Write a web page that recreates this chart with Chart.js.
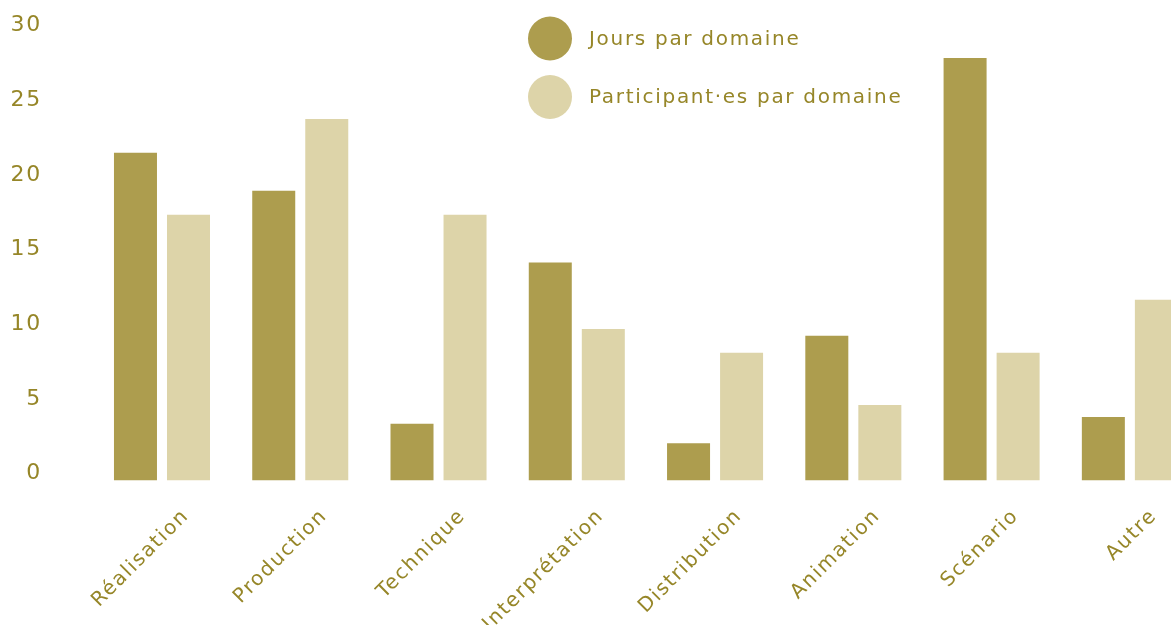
<!DOCTYPE html>
<html>
<head>
<meta charset="utf-8">
<script src="https://cdn.jsdelivr.net/npm/chart.js@4.4.1/dist/chart.umd.min.js"></script>
<style>
  html, body { margin: 0; padding: 0; background: #ffffff; overflow: hidden; }
  #wrap { position: relative; width: 1200px; height: 625px; }
</style>
</head>
<body>
<div id="wrap"><canvas id="c"></canvas></div>
<script>
const categories = ['Réalisation', 'Production', 'Technique', 'Interprétation', 'Distribution', 'Animation', 'Scénario', 'Autre'];
const seriesNames = ['Jours par domaine', 'Participant·es par domaine'];
const joursParDomaine = [21.95, 19.4, 3.8, 14.6, 2.5, 9.7, 28.3, 4.25];
const participantsParDomaine = [17.8, 24.2, 17.8, 10.15, 8.55, 5.05, 8.55, 12.1];
const yMin = 0, yMax = 30, yStep = 5;

const TEXT = '#968628';
const DARK = '#AD9D4E';
const LIGHT = '#DDD4A9';
const FONT = '"DejaVu Sans", sans-serif';
const SPACING = '1.7px';

const spacingPlugin = {
  id: 'spacing',
  beforeUpdate(chart) { chart.ctx.letterSpacing = SPACING; },
  beforeLayout(chart) { chart.ctx.letterSpacing = SPACING; },
  beforeDraw(chart) { chart.ctx.letterSpacing = SPACING; }
};

const legendPlugin = {
  id: 'customLegend',
  afterDraw(chart) {
    const ctx = chart.ctx;
    const rows = [38.5, 97];
    ctx.save();
    ctx.letterSpacing = SPACING;
    chart.data.datasets.forEach((ds, i) => {
      ctx.beginPath();
      ctx.fillStyle = ds.backgroundColor;
      ctx.arc(550, rows[i], 22, 0, Math.PI * 2);
      ctx.fill();
      ctx.fillStyle = TEXT;
      ctx.font = '20px ' + FONT;
      ctx.textAlign = 'left';
      ctx.textBaseline = 'middle';
      ctx.fillText(ds.label, 589, rows[i] + 1);
    });
    ctx.restore();
  }
};

new Chart(document.getElementById('c'), {
  type: 'bar',
  data: {
    labels: categories,
    datasets: [
      { label: seriesNames[0], data: joursParDomaine, backgroundColor: DARK },
      { label: seriesNames[1], data: participantsParDomaine, backgroundColor: LIGHT }
    ]
  },
  options: {
    responsive: true,
    maintainAspectRatio: false,
    animation: false,
    barPercentage: 0.811,
    categoryPercentage: 0.767,
    layout: { padding: { top: 32.5, right: 1, left: 0, bottom: 0 } },
    plugins: { legend: { display: false }, tooltip: { enabled: false } },
    scales: {
      x: {
        grid: { display: false, drawTicks: false },
        border: { display: false },
        afterFit(scale) { scale.height = 144.5; scale.paddingLeft = 0; scale.paddingRight = 0; },
        ticks: {
          color: TEXT,
          font: { family: FONT, size: 20 },
          minRotation: 45,
          maxRotation: 45,
          padding: 24,
          labelOffset: 24,
          autoSkip: false
        }
      },
      y: {
        min: yMin,
        max: yMax,
        grid: { display: false, drawTicks: false },
        border: { display: false },
        afterFit(scale) { scale.width = 92.85; scale.paddingTop = 0; scale.paddingBottom = 0; },
        ticks: {
          stepSize: yStep,
          color: TEXT,
          font: { family: FONT, size: 22 },
          padding: 51,
          labelOffset: -7
        }
      }
    }
  },
  plugins: [spacingPlugin, legendPlugin]
});
</script>
</body>
</html>
